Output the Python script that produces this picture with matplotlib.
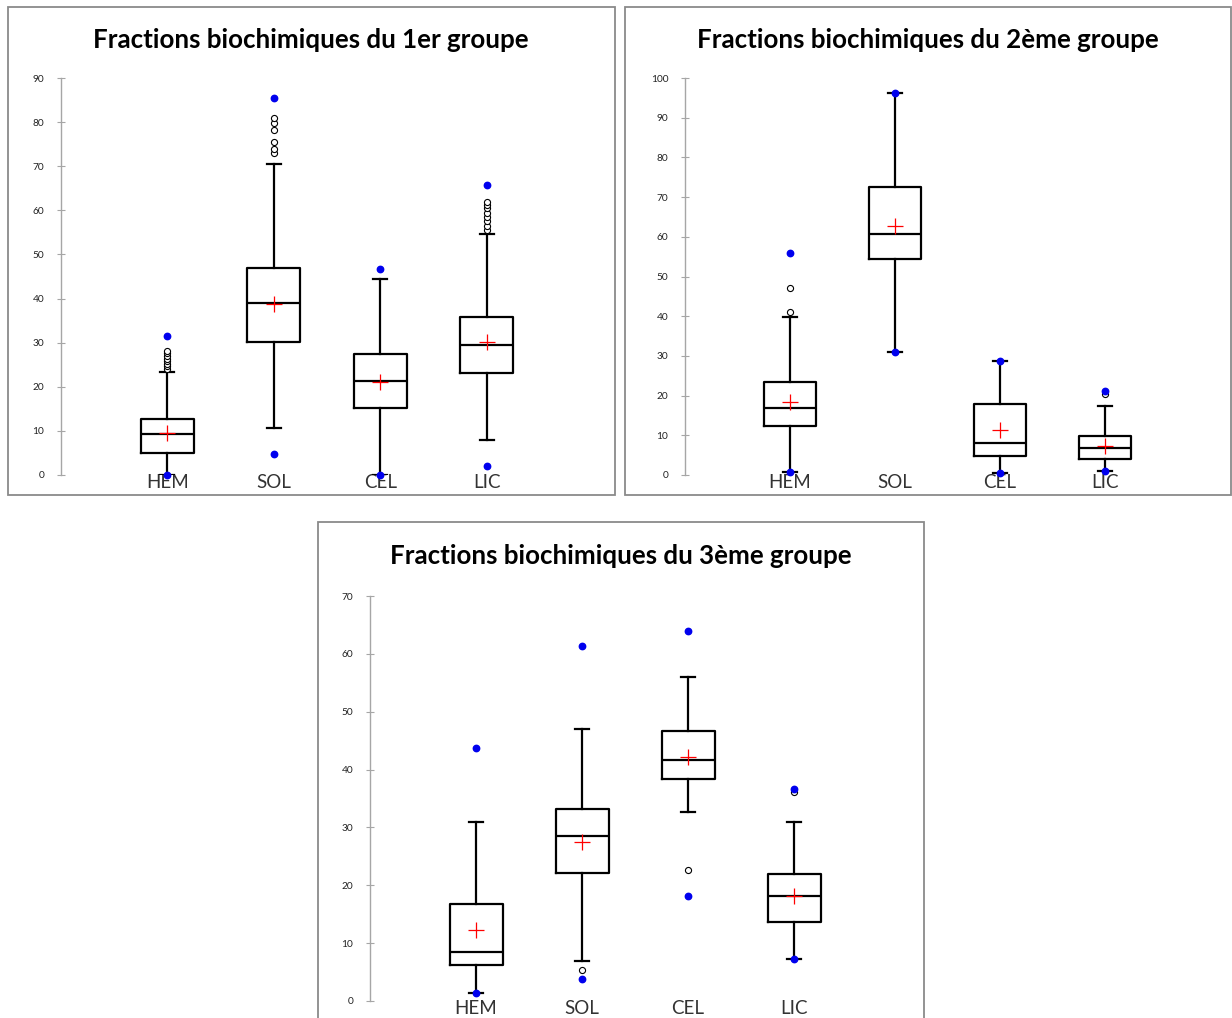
import matplotlib.pyplot as plt
from matplotlib.patches import Rectangle

plt.rcParams['font.family'] = ['Lato', 'DejaVu Sans']

categories = ["HEM", "SOL", "CEL", "LIC"]

# groupe 1
g1_q1 = [5.1, 30.2, 15.1, 23.1]
g1_med = [9.3, 39.1, 21.2, 29.5]
g1_q3 = [12.6, 46.9, 27.4, 35.8]
g1_whislo = [0.0, 10.7, 0.0, 8.0]
g1_whishi = [23.4, 70.4, 44.4, 54.6]
g1_mean = [9.6, 38.8, 21.1, 30.2]
g1_min = [0.0, 4.7, 0.0, 2.0]
g1_max = [31.4, 85.4, 46.7, 65.8]
g1_out = [[24.0, 24.6, 25.2, 25.8, 26.4, 27.0, 27.6, 28.2],
          [73.1, 73.9, 75.6, 78.1, 79.7, 80.9],
          [],
          [55.6, 56.5, 57.5, 58.5, 59.5, 60.5, 61.3, 62.0]]

# groupe 2
g2_q1 = [12.4, 54.4, 4.8, 4.1]
g2_med = [16.8, 60.7, 8.0, 6.9]
g2_q3 = [23.5, 72.5, 17.8, 9.8]
g2_whislo = [0.7, 31.1, 0.4, 1.0]
g2_whishi = [39.9, 96.3, 28.7, 17.5]
g2_mean = [18.3, 62.8, 11.3, 7.4]
g2_min = [0.7, 31.1, 0.4, 1.0]
g2_max = [55.8, 96.3, 28.7, 21.2]
g2_out = [[41.0, 47.1], [], [], [20.3]]

# groupe 3
g3_q1 = [6.2, 22.1, 38.4, 13.6]
g3_med = [8.5, 28.6, 41.7, 18.1]
g3_q3 = [16.8, 33.2, 46.7, 22.0]
g3_whislo = [1.3, 6.9, 32.6, 7.2]
g3_whishi = [30.9, 47.0, 56.0, 30.9]
g3_mean = [12.2, 27.5, 42.1, 18.2]
g3_min = [1.3, 3.8, 18.1, 7.2]
g3_max = [43.7, 61.3, 64.0, 36.7]
g3_out = [[], [5.4], [22.7], [36.1]]

W, H = 1232, 1018


def px_rect(left, top, right, bottom):
    return [left / W, 1 - bottom / H, (right - left) / W, (bottom - top) / H]


def draw_group(fig, rect, title, title_xy, ymax, step,
               q1, med, q3, wlo, whi, mean, vmin, vmax, outl):
    ax = fig.add_axes(rect)
    pos = [1, 2, 3, 4]
    stats = []
    for i in range(4):
        stats.append(dict(q1=q1[i], med=med[i], q3=q3[i], whislo=wlo[i],
                          whishi=whi[i], mean=mean[i], fliers=[]))
    ax.bxp(stats, positions=pos, widths=0.5, capwidths=0.13,
           showmeans=True, showfliers=False,
           boxprops=dict(color='black', linewidth=1.6),
           medianprops=dict(color='black', linewidth=1.6),
           whiskerprops=dict(color='black', linewidth=1.6),
           capprops=dict(color='black', linewidth=1.6),
           meanprops=dict(marker='+', markeredgecolor='red', markersize=11,
                          markeredgewidth=0.9))
    for i, p in enumerate(pos):
        if outl[i]:
            ax.plot([p] * len(outl[i]), outl[i], 'o', mfc='white', mec='black',
                    ms=4.4, mew=0.8, clip_on=False, zorder=4)
        ax.plot([p, p], [vmin[i], vmax[i]], 'o', color='#0000ee', ms=4.6,
                clip_on=False, zorder=5, linestyle='none')
    ax.set_xlim(0, 5)
    ax.set_ylim(0, ymax)
    ax.set_yticks(range(0, ymax + 1, step))
    for s in ['top', 'right', 'bottom']:
        ax.spines[s].set_visible(False)
    ax.spines['left'].set_color('#a6a6a6')
    ax.spines['left'].set_linewidth(1)
    ax.tick_params(axis='y', direction='inout', length=6, color='#a6a6a6',
                   labelsize=7.3, labelcolor='#222222', pad=9)
    ax.set_xticks(pos, categories)
    ax.tick_params(axis='x', length=0, pad=-1, labelsize=13.5,
                   labelcolor='#333333')
    ax.patch.set_alpha(0)
    fig.text(title_xy[0] / W, 1 - title_xy[1] / H, title, ha='center',
             va='center', fontsize=18.6, fontweight='bold', color='black')
    return ax


fig = plt.figure(figsize=(W / 100, H / 100), dpi=100)

# panel frames
for (l, t, r, b) in [(8, 7, 615, 495), (625, 7, 1231, 495), (318, 522, 924, 1030)]:
    fig.patches.append(Rectangle((l / W, 1 - b / H), (r - l) / W, (b - t) / H,
                                 transform=fig.transFigure, fill=False,
                                 edgecolor='#8a8a8a', linewidth=1.3))

draw_group(fig, px_rect(61, 78, 593, 475), "Fractions biochimiques du 1er groupe",
           (311, 40), 90, 10,
           g1_q1, g1_med, g1_q3, g1_whislo, g1_whishi, g1_mean, g1_min, g1_max, g1_out)
draw_group(fig, px_rect(685, 78, 1210, 475), "Fractions biochimiques du 2ème groupe",
           (928, 40), 100, 10,
           g2_q1, g2_med, g2_q3, g2_whislo, g2_whishi, g2_mean, g2_min, g2_max, g2_out)
draw_group(fig, px_rect(370, 596, 900, 1001), "Fractions biochimiques du 3ème groupe",
           (621, 556), 70, 10,
           g3_q1, g3_med, g3_q3, g3_whislo, g3_whishi, g3_mean, g3_min, g3_max, g3_out)

fig.savefig('out.png', dpi=100)
